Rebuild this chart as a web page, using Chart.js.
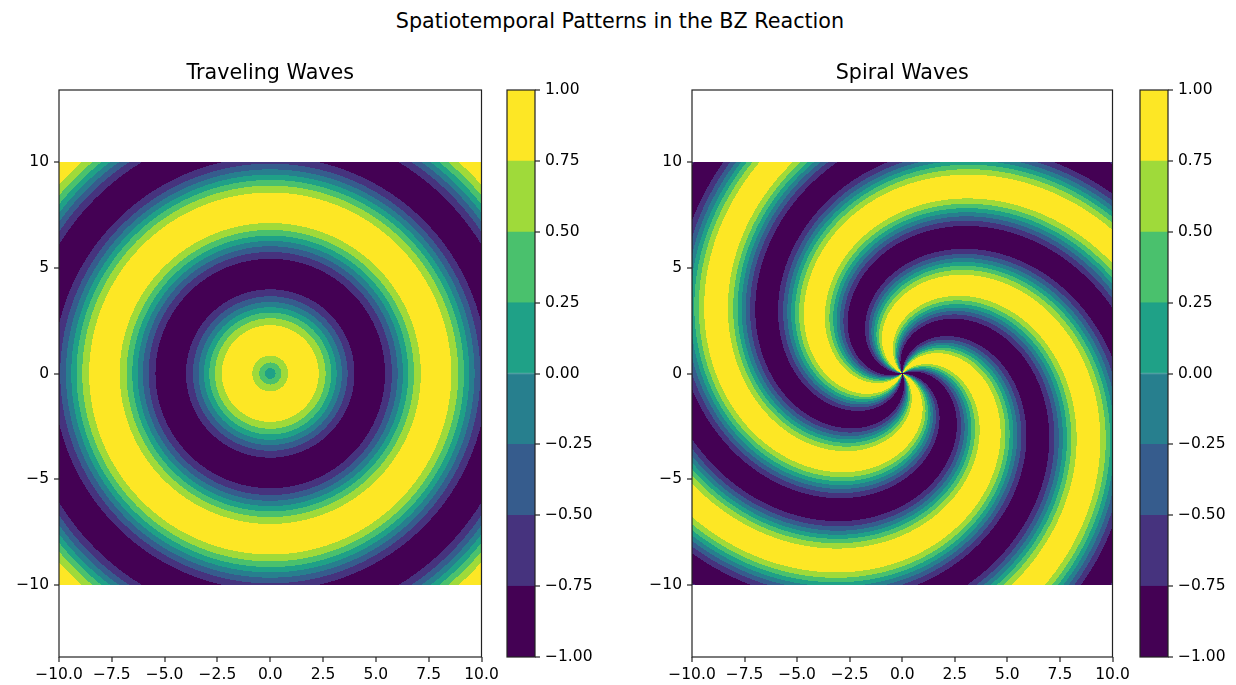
<!DOCTYPE html>
<html>
<head>
<meta charset="utf-8">
<script src="https://cdn.jsdelivr.net/npm/chart.js@4.4.1/dist/chart.umd.min.js"></script>
<style>
body { margin: 0; background: #fff; width: 1236px; height: 685px; position: relative; overflow: hidden; }
canvas { position: absolute; }
#suptitle { position: absolute; left: 0; top: 9px; width: 1240px; text-align: center;
  font-family: 'DejaVu Sans'; font-size: 20.7px; color: #000; }
</style>
</head>
<body>
<div id="suptitle">Spatiotemporal Patterns in the BZ Reaction</div>
<canvas id="waves" width="510" height="630" style="left:0;top:55px"></canvas>
<canvas id="wavesBar" width="110" height="630" style="left:497px;top:55px"></canvas>
<canvas id="spiral" width="510" height="630" style="left:630px;top:55px"></canvas>
<canvas id="spiralBar" width="110" height="630" style="left:1130px;top:55px"></canvas>
<script>
// contour levels and the viridis colour of each filled band
const levels = [-1, -0.75, -0.5, -0.25, 0, 0.25, 0.5, 0.75, 1];
const bandColors = ['#440154', '#46337e', '#365c8d', '#277f8e', '#1fa187', '#4ac16d', '#9fda3a', '#fde725'];

// tick labels
const xTicks = [-10, -7.5, -5, -2.5, 0, 2.5, 5, 7.5, 10];
const yTicks = [-10, -5, 0, 5, 10];
const fieldExtent = [-10, 10];

// band changes over one wavelength, as a fraction of it (read along a ray)
const bandEdges = [0.040, 0.083, 0.135, 0.365, 0.417, 0.460, 0.500, 0.540, 0.583, 0.635, 0.865, 0.917, 0.960];
const bandSeq = [4, 5, 6, 7, 6, 5, 4, 3, 2, 1, 0, 1, 2, 3];

// traveling waves: concentric rings
const ringWavelength = [6.28];
const ringPhase = [0];

// spiral waves
const spiralArms = [4];
const spiralWavelength = [5.2];
const spiralPhase = [0.66];

Chart.defaults.font.family = 'DejaVu Sans';
Chart.defaults.font.size = 15.5;
Chart.defaults.color = '#000';

const fmt = (v, d) => (v < 0 ? '\u2212' : '') + Math.abs(v).toFixed(d);

function bandAt(u) {
  let k = 0;
  while (k < bandEdges.length && u >= bandEdges[k]) k++;
  return bandSeq[k];
}

function hexToRgb(h) {
  return [1, 3, 5].map(i => parseInt(h.substr(i, 2), 16));
}

function fieldPlugin(bandFn) {
  return {
    id: 'field',
    beforeDatasetsDraw(chart) {
      const { ctx, scales: { x, y } } = chart;
      const x0 = Math.round(x.getPixelForValue(fieldExtent[0]));
      const x1 = Math.round(x.getPixelForValue(fieldExtent[1]));
      const y0 = Math.round(y.getPixelForValue(fieldExtent[1]));
      const y1 = Math.round(y.getPixelForValue(fieldExtent[0]));
      const w = x1 - x0, h = y1 - y0;
      const img = ctx.createImageData(w, h);
      const rgb = bandColors.map(hexToRgb);
      for (let j = 0; j < h; j++) {
        const vy = y.getValueForPixel(y0 + j + 0.5);
        for (let i = 0; i < w; i++) {
          const vx = x.getValueForPixel(x0 + i + 0.5);
          const c = rgb[bandFn(vx, vy)];
          const p = (j * w + i) * 4;
          img.data[p] = c[0]; img.data[p + 1] = c[1]; img.data[p + 2] = c[2]; img.data[p + 3] = 255;
        }
      }
      ctx.putImageData(img, x0, y0);
    }
  };
}

// axes box on all four sides
const frame = {
  id: 'frame',
  afterDraw(chart) {
    const { ctx, chartArea: a } = chart;
    ctx.save();
    ctx.strokeStyle = '#222';
    ctx.lineWidth = 1.2;
    ctx.strokeRect(a.left, a.top, a.right - a.left, a.bottom - a.top);
    ctx.restore();
  }
};

// subplot title centred over the axes box
function panelTitle(text) {
  return {
    id: 'panelTitle',
    afterDraw(chart) {
      const { ctx, chartArea: a } = chart;
      ctx.save();
      ctx.font = '20.7px "DejaVu Sans"';
      ctx.fillStyle = '#000';
      ctx.textAlign = 'center';
      ctx.textBaseline = 'middle';
      ctx.fillText(text, (a.left + a.right) / 2, a.top - 16);
      ctx.restore();
    }
  };
}

const frac = v => v - Math.floor(v);

function ringBand(x, y) {
  const r = Math.hypot(x, y);
  return bandAt(frac(r / ringWavelength[0] + ringPhase[0]));
}

function spiralBand(x, y) {
  const r = Math.hypot(x, y);
  const th = Math.atan2(y, x);
  return bandAt(frac(r / spiralWavelength[0] + spiralArms[0] * th / (2 * Math.PI) + spiralPhase[0]));
}

function tickGrid() {
  return { display: true, drawOnChartArea: false, drawTicks: true, lineWidth: 0,
    tickLength: 5, tickWidth: 1.2, tickColor: '#222' };
}

function makePanel(id, title, yWidth, rightPad, bandFn) {
  return new Chart(document.getElementById(id), {
    type: 'scatter',
    data: { datasets: [{ data: [] }] },
    options: {
      responsive: false,
      animation: false,
      layout: { padding: { left: 0, right: rightPad, top: 35, bottom: 0 } },
      plugins: { legend: { display: false }, tooltip: { enabled: false } },
      scales: {
        x: {
          type: 'linear', min: -10, max: 10,
          afterBuildTicks: s => { s.ticks = xTicks.map(v => ({ value: v })); },
          afterFit: s => { s.height = 28; s.paddingLeft = 0; s.paddingRight = 0; },
          ticks: { callback: v => fmt(v, 1), padding: 4, maxRotation: 0, autoSkip: false },
          grid: tickGrid(),
          border: { display: false }
        },
        y: {
          type: 'linear', min: -13.43, max: 13.43,
          afterBuildTicks: s => { s.ticks = yTicks.map(v => ({ value: v })); },
          afterFit: s => { s.width = yWidth; s.paddingTop = 0; s.paddingBottom = 0; },
          ticks: { callback: v => fmt(v, 0), padding: 5, autoSkip: false },
          grid: tickGrid(),
          border: { display: false }
        }
      }
    },
    plugins: [fieldPlugin(bandFn), frame, panelTitle(title)]
  });
}

function makeColorbar(id) {
  const datasets = bandColors.map((c, i) => ({
    data: [[levels[i], levels[i + 1]]],
    backgroundColor: c,
    borderColor: c,
    borderWidth: 1,
    borderSkipped: false,
    barPercentage: 1,
    categoryPercentage: 1
  }));
  return new Chart(document.getElementById(id), {
    type: 'bar',
    data: { labels: [''], datasets },
    options: {
      responsive: false,
      animation: false,
      layout: { padding: { left: 10, right: 0, top: 35, bottom: 28 } },
      plugins: { legend: { display: false }, tooltip: { enabled: false } },
      scales: {
        x: { display: false, stacked: true },
        y: {
          position: 'right', min: -1, max: 1,
          afterBuildTicks: s => { s.ticks = levels.map(v => ({ value: v })); },
          afterFit: s => { s.width = 72; },
          ticks: { callback: v => fmt(v, 2), padding: 5, autoSkip: false },
          grid: tickGrid(),
          border: { display: false }
        }
      }
    },
    plugins: [frame]
  });
}

makePanel('waves', 'Traveling Waves', 59, 28.5, ringBand);
makeColorbar('wavesBar');
makePanel('spiral', 'Spiral Waves', 62, 27.5, spiralBand);
makeColorbar('spiralBar');
</script>
</body>
</html>
